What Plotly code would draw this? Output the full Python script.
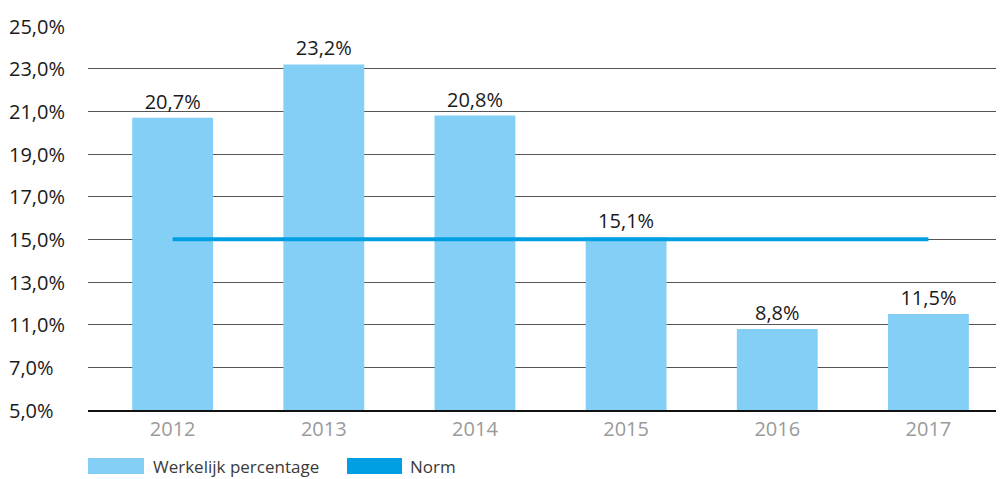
import plotly.graph_objects as go

years = ["2012", "2013", "2014", "2015", "2016", "2017"]
werkelijk = [20.7, 23.2, 20.8, 15.1, 8.8, 11.5]
norm_value = 15.0
tick_labels = [5, 7, 11, 13, 15, 17, 19, 21, 23, 25]

# The reference axis is evenly spaced but skips the 9,0% label:
# labels from 11 upwards sit two units lower on the drawn scale.
def axis_pos(v):
    return v - 2 if v >= 11 else v

tick_pos = [axis_pos(t) if t != 11 else 9 for t in tick_labels]
tick_text = [f"{t:.1f}".replace(".", ",") + "%" for t in tick_labels]

bar_color = "#84cff5"
norm_color = "#009fe3"
font_family = "Open Sans, Noto Sans, sans-serif"

fig = go.Figure()
fig.add_trace(go.Bar(
    x=years, y=[axis_pos(v) for v in werkelijk],
    marker=dict(color=bar_color, line=dict(width=0)),
    width=0.535,
    text=[f"{v:.1f}".replace(".", ",") + "%" for v in werkelijk],
    textposition="outside", cliponaxis=False,
    textfont=dict(size=20, color="#1a1a1a"),
    name="Werkelijk percentage", showlegend=False,
))
fig.add_trace(go.Scatter(
    x=years, y=[axis_pos(norm_value)] * len(years),
    mode="lines", line=dict(color=norm_color, width=4),
    name="Norm", showlegend=False,
))

# page is rendered with an 8px body margin; coordinates below are page pixels
W, H = 916, 384
def px(x):
    return (x - 88) / W
def py(y):
    return (410 - y) / H

shapes = [
    dict(type="rect", xref="paper", yref="paper", x0=px(88), x1=px(144), y0=py(474), y1=py(458),
         fillcolor=bar_color, line=dict(width=0)),
    dict(type="rect", xref="paper", yref="paper", x0=px(347), x1=px(402), y0=py(474), y1=py(458),
         fillcolor=norm_color, line=dict(width=0)),
]
annotations = [
    dict(text="Werkelijk percentage", xref="paper", yref="paper", x=px(151), y=py(466),
         xanchor="left", yanchor="middle", showarrow=False, font=dict(size=17, color="#3a3a3a")),
    dict(text="Norm", xref="paper", yref="paper", x=px(408), y=py(466),
         xanchor="left", yanchor="middle", showarrow=False, font=dict(size=17, color="#3a3a3a")),
]
for pos, txt in zip(tick_pos, tick_text):
    annotations.append(dict(text=txt, xref="paper", yref="y", x=px(7), y=pos,
                            xanchor="left", yanchor="middle", showarrow=False,
                            font=dict(size=20, color="#1a1a1a")))

fig.update_layout(
    width=996, height=471,
    margin=dict(l=80, r=0, t=18, b=69),
    paper_bgcolor="white", plot_bgcolor="white",
    font=dict(family=font_family),
    shapes=shapes, annotations=annotations,
    xaxis=dict(range=[-0.56, 5.5], showgrid=False, ticks="", automargin=False,
               tickfont=dict(size=20, color="#9a9a9a"),
               showline=True, linecolor="#111111", linewidth=1.5),
    yaxis=dict(range=[5, 23], tickmode="array", tickvals=tick_pos, showticklabels=False,
               showgrid=True, gridcolor="#555555", gridwidth=1, zeroline=False,
               ticks="", automargin=False),
    bargap=0.46,
)
fig.write_html("out.html")
